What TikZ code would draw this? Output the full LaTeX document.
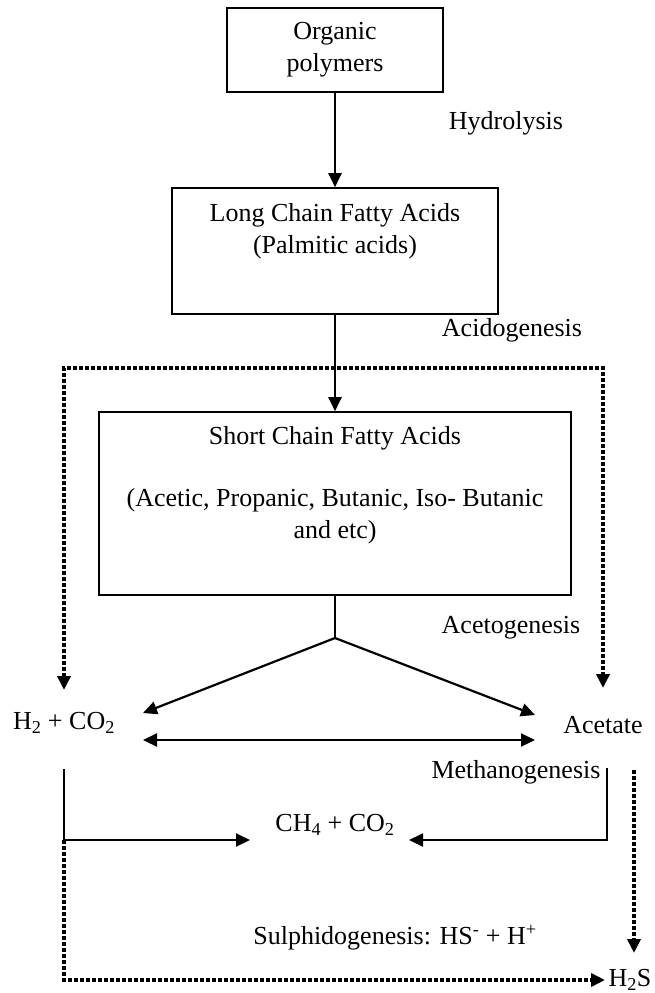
\documentclass[tikz,border=0pt]{standalone}
\usepackage{fontspec}
\setmainfont{Liberation Serif}
\usetikzlibrary{arrows.meta}

\begin{document}
\begin{tikzpicture}[x=1pt, y=-1pt,
  every node/.style={font=\fontsize{26}{32}\selectfont, inner sep=0pt},
  box/.style={draw, line width=1.6pt},
  tip/.style={-{Triangle[length=14pt,width=13pt]}},
  arr/.style={line width=2.2pt, tip},
  link/.style={line width=1.8pt},
  dots/.style={line width=3.5pt, dash pattern=on 3.5pt off 2.5pt, tip}]
\useasboundingbox (0,0) rectangle (655,993);
\node[box, minimum width=216pt, minimum height=84pt, align=center] (poly) at (335,50) {Organic\\polymers};
\node[box, minimum width=326pt, minimum height=126pt] (lcfa) at (335,251) {};
\node[align=center] (lcfatxt) at (335,231) {Long Chain Fatty Acids\\(Palmitic acids)};
\node[box, minimum width=472pt, minimum height=183pt] (scfa) at (335,503.5) {};
\node[align=center] (scfatxt) at (335,485) {Short Chain Fatty Acids\\[30pt](Acetic, Propanic, Butanic, Iso- Butanic\\and etc)};
\node (hyd) at (506,123) {Hydrolysis};
\node (acid) at (512,330) {Acidogenesis};
\node (aceto) at (511,628) {Acetogenesis};
\node (h2) at (64,723) {H\textsubscript{2} + CO\textsubscript{2}};
\node (acet) at (603,725) {Acetate};
\node (meth) at (516,772) {Methanogenesis};
\node (ch4) at (335,825) {CH\textsubscript{4} + CO\textsubscript{2}};
\node (sulph) at (395,938) {Sulphidogenesis: HS\textsuperscript{-} + H\textsuperscript{+}};
\node (h2s) at (630,980) {H\textsubscript{2}S};
\coordinate (fork) at (335,638);
\coordinate (h2in) at (143,713);
\coordinate (acin) at (535,715);
\coordinate (exl) at (143,740);
\coordinate (exr) at (535,740);
\coordinate (h2out) at (64,769);
\coordinate (acout) at (607,768);
\coordinate (chl) at (250,840);
\coordinate (chr) at (409,840);
\coordinate (dotl) at (64,368);
\coordinate (dotr) at (603,368);
\coordinate (h2top) at (64,690);
\coordinate (actop) at (603,688);
\coordinate (h2sin) at (605,980);
\coordinate (acdot) at (634,770);
\coordinate (h2stop) at (634,953);
\draw[arr] (poly) -- (lcfa);
\draw[arr] (lcfa) -- (scfa);
\draw[link] (scfa) -- (fork);
\draw[arr] (fork) -- (h2in);
\draw[arr] (fork) -- (acin);
\draw[arr, {Triangle[length=14pt,width=13pt]}-{Triangle[length=14pt,width=13pt]}] (exl) -- (exr);
\draw[arr] (h2out) |- (chl);
\draw[arr] (acout) |- (chr);
\draw[dots, {Triangle[length=14pt,width=13pt]}-{Triangle[length=14pt,width=13pt]}] (h2top) -- (dotl) -- (dotr) -- (actop);
\draw[dots] (h2out |- chl) |- (h2sin);
\draw[dots] (acdot) -- (h2stop);
\end{tikzpicture}
\end{document}
